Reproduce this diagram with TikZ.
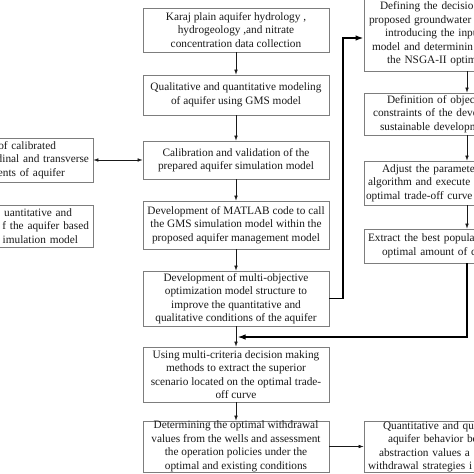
\documentclass[tikz,border=0pt]{standalone}
\usepackage{fontspec}
\setmainfont{Liberation Serif}
\usetikzlibrary{arrows.meta}
\definecolor{boxgray}{RGB}{125,125,125}
\definecolor{txt}{RGB}{25,25,25}
\newcommand\fsz{\fontsize{11.3}{13.5}\selectfont}
\newcommand\gap[1]{\rule{#1pt}{0pt}}
\tikzset{
  box/.style={draw=boxgray, line width=0.8pt, minimum width=186pt, align=center, inner sep=0pt, font=\fsz, text=txt},
  lbox/.style={draw=boxgray, line width=0.8pt, text width=178pt, inner xsep=4pt, inner ysep=0pt, align=right, font=\fsz, text=txt},
  rbox/.style={draw=boxgray, line width=0.8pt, text width=204pt, inner xsep=1pt, inner ysep=0pt, align=left, font=\fsz, text=txt},
  thin/.style={draw=txt, line width=0.6pt, -{Latex[length=5pt,width=3.6pt]}},
  fb/.style={draw=black, line width=1.5pt, -{Latex[length=8pt,width=5.5pt]}},
}
\begin{document}
\begin{tikzpicture}[x=1pt,y=-1pt]
\useasboundingbox (0,0) rectangle (474,474);
\clip (0,0) rectangle (474,474);
\fill[white] (0,0) rectangle (474,474);
% main column
\node[box, minimum height=44pt] (b1) at (236,30) {Karaj plain aquifer hydrology ,\\ hydrogeology ,and nitrate\\ concentration data collection};
\node[box, minimum height=40pt] (b2) at (236,95) {Qualitative and quantitative modeling\\ of aquifer using GMS model};
\node[box, minimum height=38pt] (b3) at (236,160) {Calibration and validation of the\\ prepared aquifer simulation model};
\node[box, minimum height=48pt] (b4) at (236,225) {Development of MATLAB code to call\\ the GMS simulation model within the\\ proposed aquifer management model};
\node[box, minimum height=55pt] (b5) at (236,298.5) {Development of multi-objective\\ optimization model structure to\\ improve the quantitative and\\ qualitative conditions of the aquifer};
\node[box, minimum height=55pt] (b6) at (236,374.5) {Using multi-criteria decision making\\ methods to extract the superior\\ scenario located on the optimal trade-\\ off curve};
\node[box, minimum height=51pt] (b7) at (236,446.5) {Determining the optimal withdrawal\\ values from the wells and assessment\\ the operation policies under the\\ optimal and existing conditions};
% left column
\node[lbox, minimum height=44pt] (l1) at (0,160) {of calibrated\gap{33}\\ dinal and transverse\\ ents of aquifer\gap{24}};
\node[lbox, minimum height=42pt] (l2) at (0,226) {uantitative and\gap{17}\\ f the aquifer based\\ imulation model\gap{11}};
% right column
\node[rbox, minimum height=74pt] (r1) at (467,34) {\gap{15}Defining the decisio\\ \gap{4}proposed groundwater\\ \gap{20}introducing the inpu\\ \gap{7}model and determinin\\ \gap{22}the NSGA-II optim};
\node[rbox, minimum height=42pt] (r2) at (467,114) {\gap{22}Definition of object\\ \gap{8}constraints of the deve\\ \gap{15}sustainable developm};
\node[rbox, minimum height=44pt] (r3) at (467,183) {\gap{17}Adjust the parameter\\ \gap{3}algorithm and execute\\ \gap{1}optimal trade-off curve};
\node[rbox, minimum height=34pt] (r4) at (467,246) {\gap{3}Extract the best populat\\ \gap{17}optimal amount of c};
\node[rbox, minimum height=50pt] (r5) at (467,447) {\gap{18}Quantitative and qu\\ \gap{23}aquifer behavior be\\ \gap{14}abstraction values a\\ \gap{3}withdrawal strategies i};
% connectors
\draw[thin] (b1) -- (b2);
\draw[thin] (b2) -- (b3);
\draw[thin] (b3) -- (b4);
\draw[thin] (b4) -- (b5);
\draw[thin] (b5) -- (b6);
\draw[thin] (b6) -- (b7);
\draw[thin] (r1) -- (r2);
\draw[thin] (r2) -- (r3);
\draw[thin] (r3) -- (r4);
\draw[thin, {Latex[length=5pt,width=3.6pt]}-{Latex[length=5pt,width=3.6pt]}] (l1.east) -- (b3.west);
\draw[thin] (b7.east) -- (r5.west |- b7.east);
\coordinate (k1) at (343,200);
\coordinate (k2) at (237.5,337);
\draw[fb] (b5.east) -| (k1) |- ([yshift=-4pt]r1.west);
\draw[fb] (r4.south) |- (k2);
\end{tikzpicture}
\end{document}
